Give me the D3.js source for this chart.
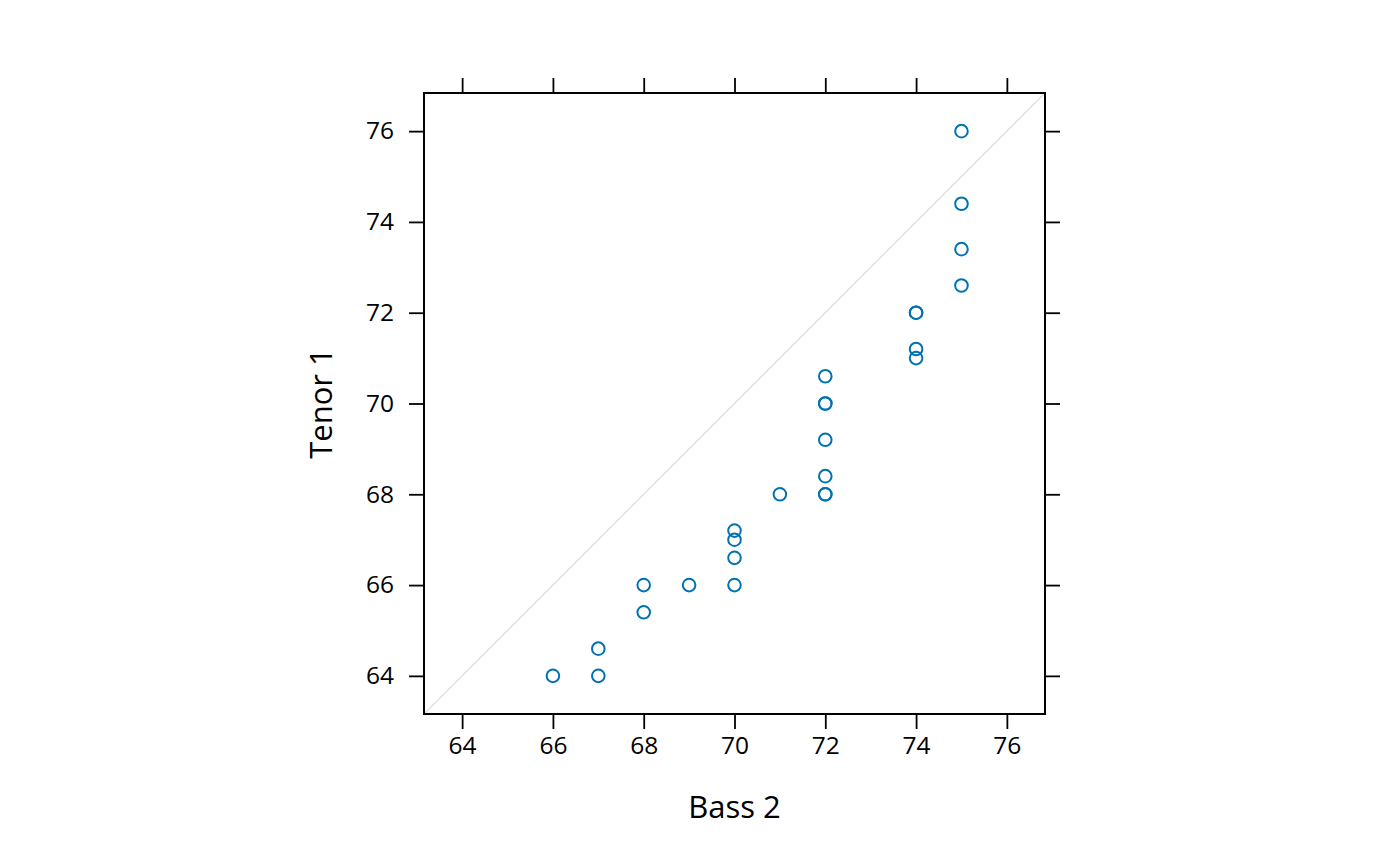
<!DOCTYPE html>
<html>
<head>
<meta charset="utf-8">
<script src="https://cdn.jsdelivr.net/npm/d3@7"></script>
<style>
  body { margin: 0; background: #fff; }
  text { font-family: "Open Sans", "Noto Sans", sans-serif; fill: #000; }
</style>
</head>
<body>
<div class="graph"></div>
<script>
// quantiles of Bass 2 (x) against Tenor 1 (y)
var bass2 = [66, 67, 67, 68, 68, 69, 70, 70, 70, 70, 71, 72, 72, 72, 72, 72, 72, 72, 74, 74, 74, 74, 75, 75, 75, 75];
var tenor1 = [64, 64, 64.6, 65.4, 66, 66, 66, 66.6, 67, 67.2, 68, 68, 68, 68.4, 69.2, 70, 70, 70.6, 71, 71.2, 72, 72, 72.6, 73.4, 74.4, 76];
var ticks = [64, 66, 68, 70, 72, 74, 76];
var xLabel = 'Bass 2',
    yLabel = 'Tenor 1';

(() => {
var width = 1400,
    height = 866,
    left = 424, right = 1045,
    top = 93, bottom = 714,
    tickLen = 15;

var lo = d3.min(bass2.concat(tenor1)),
    hi = d3.max(bass2.concat(tenor1)),
    pad = (hi - lo) * 0.07;
var dom = [lo - pad, hi + pad];

var x = d3.scaleLinear().domain(dom).range([left, right]);
var y = d3.scaleLinear().domain(dom).range([bottom, top]);

var svg = d3.select('div.graph')
    .append('svg')
        .attr('width', width)
        .attr('height', height);

// reference line y = x
svg.append('line')
    .attr('x1', x(dom[0])).attr('y1', y(dom[0]))
    .attr('x2', x(dom[1])).attr('y2', y(dom[1]))
    .attr('stroke', '#e3e3e3')
    .attr('stroke-width', 1.6);

svg.append('g')
    .selectAll('circle')
    .data(d3.zip(bass2, tenor1))
    .enter()
    .append('circle')
        .attr('cx', (d) => x(d[0]))
        .attr('cy', (d) => y(d[1]))
        .attr('r', 6.3)
        .attr('fill', 'none')
        .attr('stroke', '#0072b2')
        .attr('stroke-width', 2);

function styleAxis(g) {
    g.select('.domain').remove();
    g.selectAll('.tick line').attr('stroke', '#000').attr('stroke-width', 1.8);
    g.selectAll('.tick text')
        .style('font-family', '"Open Sans", sans-serif')
        .style('font-size', '24.5px')
        .attr('fill', '#000');
}

svg.append('g')
    .attr('transform', 'translate(0,' + bottom + ')')
    .call(d3.axisBottom(x).tickValues(ticks).tickSize(tickLen).tickPadding(8).tickFormat(d3.format('d')))
    .call(styleAxis);

svg.append('g')
    .attr('transform', 'translate(0,' + top + ')')
    .call(d3.axisTop(x).tickValues(ticks).tickSize(tickLen).tickFormat(''))
    .call(styleAxis);

svg.append('g')
    .attr('transform', 'translate(' + left + ',0)')
    .call(d3.axisLeft(y).tickValues(ticks).tickSize(tickLen).tickPadding(15).tickFormat(d3.format('d')))
    .call(styleAxis);

svg.append('g')
    .attr('transform', 'translate(' + right + ',0)')
    .call(d3.axisRight(y).tickValues(ticks).tickSize(tickLen).tickFormat(''))
    .call(styleAxis);

svg.append('rect')
    .attr('x', left).attr('y', top)
    .attr('width', right - left).attr('height', bottom - top)
    .attr('fill', 'none')
    .attr('stroke', '#000')
    .attr('stroke-width', 2);

svg.append('text')
    .attr('x', (left + right) / 2)
    .attr('y', 818)
    .attr('text-anchor', 'middle')
    .style('font-size', '31px')
    .text(xLabel);

svg.append('text')
    .attr('transform', 'translate(332,' + (top + bottom) / 2 + ') rotate(-90)')
    .attr('text-anchor', 'middle')
    .style('font-size', '31px')
    .text(yLabel);
})();
</script>
</body>
</html>
